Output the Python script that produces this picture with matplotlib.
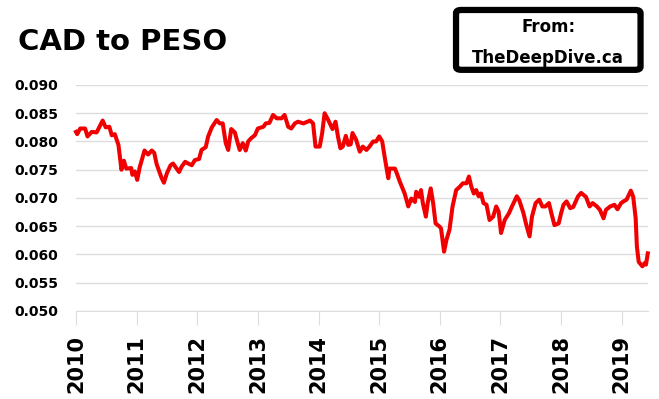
import numpy as np
import matplotlib
matplotlib.use("Agg")
import matplotlib.pyplot as plt
from matplotlib.patches import FancyBboxPatch

# CAD -> MXN rate (decimal year, rate)
years = [2010.00, 2010.02, 2010.07, 2010.15, 2010.19, 2010.26, 2010.34, 2010.44, 2010.49, 2010.55,
         2010.59, 2010.64, 2010.70, 2010.75, 2010.79, 2010.83, 2010.91, 2010.93, 2010.97, 2011.01,
         2011.05, 2011.13, 2011.19, 2011.25, 2011.29, 2011.33, 2011.37, 2011.41, 2011.45, 2011.50,
         2011.56, 2011.60, 2011.66, 2011.70, 2011.74, 2011.80, 2011.85, 2011.91, 2011.96, 2012.03,
         2012.07, 2012.14, 2012.18, 2012.24, 2012.32, 2012.37, 2012.42, 2012.47, 2012.51, 2012.56,
         2012.62, 2012.66, 2012.70, 2012.75, 2012.80, 2012.84, 2012.89, 2012.95, 2013.00, 2013.09,
         2013.13, 2013.19, 2013.25, 2013.31, 2013.39, 2013.44, 2013.50, 2013.55, 2013.61, 2013.66,
         2013.75, 2013.86, 2013.91, 2013.95, 2014.02, 2014.06, 2014.10, 2014.16, 2014.23, 2014.28,
         2014.32, 2014.36, 2014.40, 2014.45, 2014.49, 2014.53, 2014.56, 2014.62, 2014.68, 2014.73,
         2014.79, 2014.84, 2014.90, 2014.95, 2015.00, 2015.05, 2015.09, 2015.15, 2015.17, 2015.26,
         2015.29, 2015.34, 2015.42, 2015.48, 2015.53, 2015.59, 2015.61, 2015.66, 2015.69, 2015.72,
         2015.77, 2015.80, 2015.85, 2015.89, 2015.93, 2016.00, 2016.02, 2016.07, 2016.11, 2016.16,
         2016.21, 2016.27, 2016.33, 2016.38, 2016.44, 2016.48, 2016.52, 2016.56, 2016.60, 2016.64,
         2016.68, 2016.72, 2016.77, 2016.82, 2016.88, 2016.93, 2016.97, 2017.01, 2017.07, 2017.14,
         2017.19, 2017.27, 2017.31, 2017.38, 2017.42, 2017.48, 2017.52, 2017.58, 2017.64, 2017.69,
         2017.74, 2017.80, 2017.84, 2017.89, 2017.96, 2018.00, 2018.04, 2018.09, 2018.15, 2018.20,
         2018.28, 2018.33, 2018.41, 2018.47, 2018.52, 2018.59, 2018.64, 2018.70, 2018.74, 2018.81,
         2018.88, 2018.93, 2018.99, 2019.03, 2019.08, 2019.15, 2019.19, 2019.23, 2019.25, 2019.28,
         2019.34, 2019.38, 2019.40, 2019.43]
rate = [0.0817, 0.0813, 0.0823, 0.0823, 0.0809, 0.0817, 0.0816, 0.0837, 0.0825, 0.0826,
        0.0811, 0.0813, 0.0794, 0.0750, 0.0766, 0.0752, 0.0753, 0.0741, 0.0747, 0.0732,
        0.0754, 0.0784, 0.0777, 0.0784, 0.0780, 0.0760, 0.0748, 0.0736, 0.0727, 0.0744,
        0.0758, 0.0761, 0.0752, 0.0746, 0.0755, 0.0764, 0.0761, 0.0758, 0.0767, 0.0769,
        0.0785, 0.0790, 0.0809, 0.0825, 0.0838, 0.0832, 0.0832, 0.0797, 0.0785, 0.0822,
        0.0816, 0.0800, 0.0785, 0.0797, 0.0784, 0.0800, 0.0806, 0.0811, 0.0823, 0.0826,
        0.0832, 0.0833, 0.0847, 0.0841, 0.0841, 0.0847, 0.0826, 0.0823, 0.0832, 0.0835,
        0.0832, 0.0837, 0.0832, 0.0791, 0.0791, 0.0815, 0.0850, 0.0838, 0.0822, 0.0835,
        0.0809, 0.0788, 0.0791, 0.0810, 0.0794, 0.0795, 0.0815, 0.0803, 0.0782, 0.0791,
        0.0785, 0.0791, 0.0800, 0.0800, 0.0809, 0.0800, 0.0773, 0.0735, 0.0752, 0.0752,
        0.0744, 0.0729, 0.0708, 0.0685, 0.0699, 0.0693, 0.0711, 0.0702, 0.0714, 0.0691,
        0.0667, 0.0691, 0.0717, 0.0691, 0.0655, 0.0649, 0.0646, 0.0605, 0.0626, 0.0644,
        0.0685, 0.0714, 0.0720, 0.0726, 0.0726, 0.0738, 0.0720, 0.0708, 0.0714, 0.0703,
        0.0708, 0.0691, 0.0688, 0.0661, 0.0667, 0.0685, 0.0676, 0.0638, 0.0661, 0.0673,
        0.0685, 0.0703, 0.0696, 0.0673, 0.0655, 0.0632, 0.0667, 0.0691, 0.0697, 0.0685,
        0.0685, 0.0691, 0.0673, 0.0652, 0.0655, 0.0673, 0.0688, 0.0694, 0.0682, 0.0684,
        0.0703, 0.0709, 0.0702, 0.0685, 0.0691, 0.0685, 0.0679, 0.0664, 0.0679, 0.0685,
        0.0688, 0.0680, 0.0691, 0.0694, 0.0697, 0.0713, 0.0702, 0.0664, 0.0614, 0.0587,
        0.0579, 0.0585, 0.0582, 0.0602]

year_ticks = list(range(2010, 2020))
y_ticks = [0.050, 0.055, 0.060, 0.065, 0.070, 0.075, 0.080, 0.085, 0.090]

plt.rcParams['font.family'] = ['DejaVu Sans']

fig = plt.figure(figsize=(6.59, 3.99), dpi=100)
ax = fig.add_axes([0.1153, 0.2206, 0.8677, 0.5664])

ax.plot(years, rate, color='#f00000', linewidth=2.9, solid_joinstyle='round', clip_on=False)

ax.set_xlim(2010, 2019.43)
ax.set_ylim(0.050, 0.090)
ax.set_yticks(y_ticks)
ax.set_yticklabels(['%.3f' % v for v in y_ticks], fontsize=10, fontweight='bold')
ax.set_xticks(year_ticks)
ax.set_xticklabels([str(y) for y in year_ticks], rotation=90, fontsize=15, fontweight='bold')

ax.grid(axis='y', color='#dddddd', linewidth=1)
ax.set_axisbelow(True)
for s in ['top', 'right', 'left']:
    ax.spines[s].set_visible(False)
ax.spines['bottom'].set_color('#dddddd')
ax.tick_params(axis='y', length=0, pad=13)
ax.tick_params(axis='x', length=10, color='#dddddd', pad=7)

fig.text(0.027, 0.895, 'CAD to PESO', fontsize=21, fontweight='bold', va='center', ha='left')

box = FancyBboxPatch((0.692, 0.825), 0.280, 0.15, boxstyle='round,pad=0,rounding_size=0.008',
                     transform=fig.transFigure, facecolor='white', edgecolor='black', linewidth=4.5)
fig.patches.append(box)
fig.text(0.832, 0.932, 'From:', fontsize=12, fontweight='bold', ha='center', va='center')
fig.text(0.832, 0.855, 'TheDeepDive.ca', fontsize=12, fontweight='bold', ha='center', va='center')

fig.savefig('out.png', dpi=100)
